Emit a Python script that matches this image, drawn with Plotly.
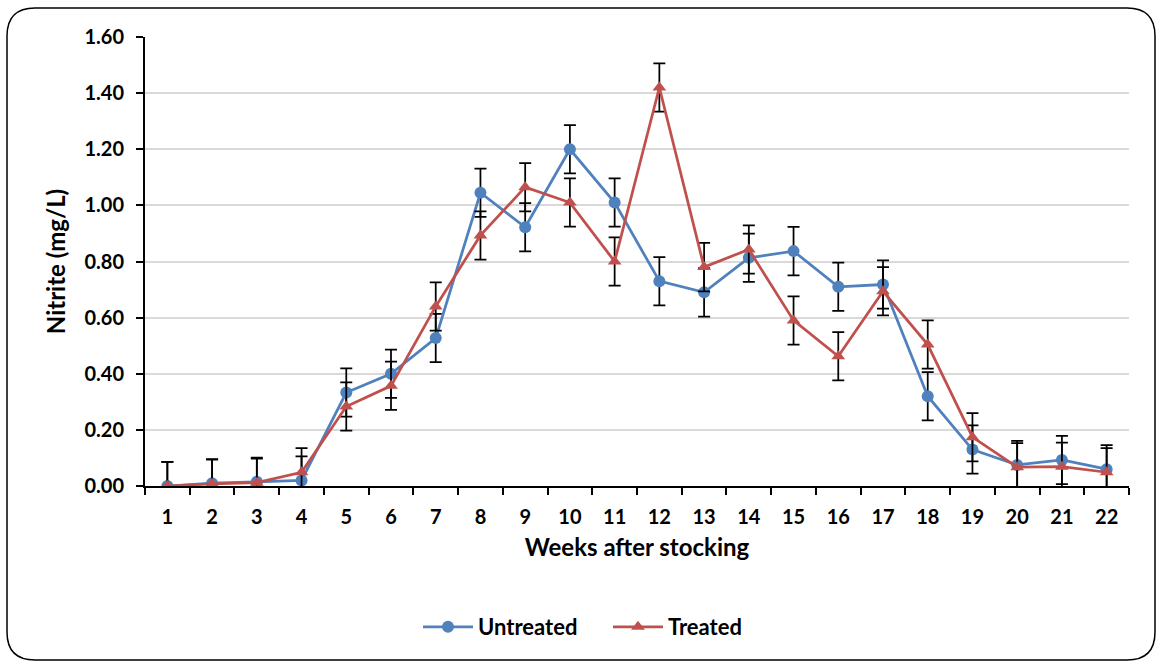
import plotly.graph_objects as go

weeks = [str(w) for w in range(1, 23)]
untreated = [0.00, 0.01, 0.015, 0.02, 0.333, 0.40, 0.527, 1.045, 0.922, 1.20, 1.01,
             0.73, 0.69, 0.813, 0.837, 0.71, 0.718, 0.32, 0.13, 0.075, 0.093, 0.06]
treated = [0.00, 0.008, 0.012, 0.049, 0.283, 0.357, 0.64, 0.893, 1.065, 1.01, 0.80,
           1.42, 0.78, 0.843, 0.59, 0.462, 0.694, 0.504, 0.174, 0.067, 0.069, 0.049]
err_untreated = [0.086] * 22
err_treated = [0.086] * 22
y_ticks = [0.0, 0.2, 0.4, 0.6, 0.8, 1.0, 1.2, 1.4, 1.6]

W, H = 1162, 663
L, R, T, B = 145, 33, 37, 177
pw, ph = W - L - R, H - T - B

FONT = "Lato"

fig = go.Figure()
fig.add_trace(go.Scatter(
    x=weeks, y=untreated, name="Untreated", mode="lines+markers",
    line=dict(color="#4f81bd", width=2.75),
    marker=dict(symbol="circle", size=12, color="#4f81bd"),
    error_y=dict(type="data", array=err_untreated, color="black", thickness=1.75, width=6),
))
fig.add_trace(go.Scatter(
    x=weeks, y=treated, name="Treated", mode="lines+markers",
    line=dict(color="#c0504d", width=2.75),
    marker=dict(symbol="triangle-up", size=12, color="#c0504d"),
    error_y=dict(type="data", array=err_treated, color="black", thickness=1.75, width=6),
))


def px(x):
    return (x - L) / pw


def py(y):
    return (H - B - y) / ph


# rounded outer frame
x0, x1, y0, y1, r = 7, 1155, 8, 660, 28
path = (
    f"M {px(x0 + r)},{py(y0)} L {px(x1 - r)},{py(y0)} "
    f"Q {px(x1)},{py(y0)} {px(x1)},{py(y0 + r)} "
    f"L {px(x1)},{py(y1 - r)} Q {px(x1)},{py(y1)} {px(x1 - r)},{py(y1)} "
    f"L {px(x0 + r)},{py(y1)} Q {px(x0)},{py(y1)} {px(x0)},{py(y1 - r)} "
    f"L {px(x0)},{py(y0 + r)} Q {px(x0)},{py(y0)} {px(x0 + r)},{py(y0)} Z"
)
fig.add_shape(type="path", path=path, xref="paper", yref="paper",
              line=dict(color="black", width=1.5), layer="below")

fig.update_layout(
    width=W, height=H,
    margin=dict(l=L, r=R, t=T, b=B),
    paper_bgcolor="white", plot_bgcolor="white",
    font=dict(family=FONT, color="black", size=20),
    showlegend=True,
    legend=dict(orientation="h", x=px(418), xanchor="left", y=py(627), yanchor="middle",
                font=dict(family=FONT, size=22, color="black", weight="bold"),
                itemwidth=50, entrywidth=125, tracegroupgap=0),
    xaxis=dict(
        type="category", range=[-0.5, 21.5], tickson="boundaries",
        showline=True, linecolor="black", linewidth=2,
        ticks="outside", ticklen=7, tickcolor="black", tickwidth=2,
        ticklabelstandoff=12,
        showgrid=False,
        tickfont=dict(family=FONT, size=20, weight="bold"),
        title=dict(text="<b>Weeks after stocking</b>", font=dict(family=FONT, size=24), standoff=12),
    ),
    yaxis=dict(
        range=[0, 1.6], tickvals=y_ticks, tickformat=".2f",
        showline=True, linecolor="black", linewidth=2,
        ticks="outside", ticklen=7, tickcolor="black", tickwidth=2,
        ticklabelstandoff=8,
        showgrid=True, gridcolor="#d9d9d9", gridwidth=1.5,
        zeroline=False,
        tickfont=dict(family=FONT, size=20, weight="bold"),
        title=dict(text="<b>Nitrite (mg/L)</b>", font=dict(family=FONT, size=24), standoff=12),
    ),
)

fig.write_html("out.html")
